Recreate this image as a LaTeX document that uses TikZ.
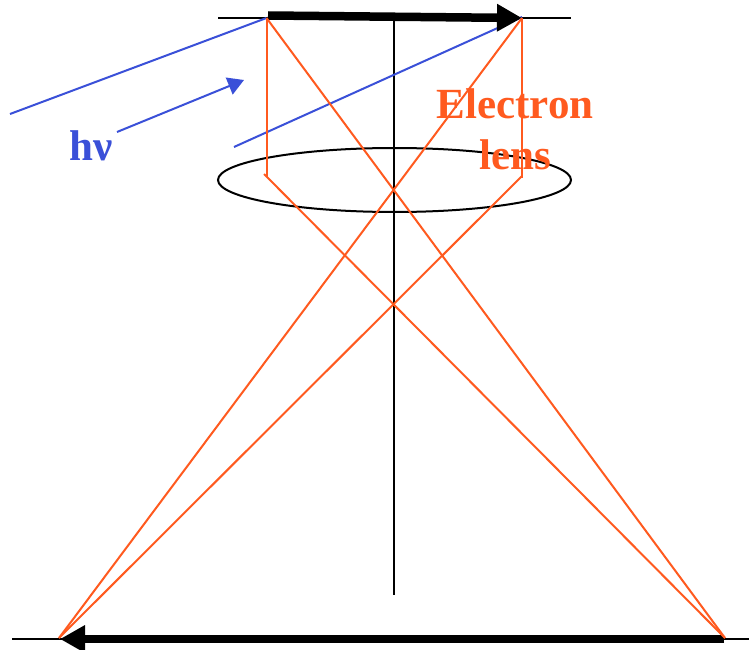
\documentclass[tikz,border=0pt]{standalone}
\usepackage{fontspec}
\setmainfont{Liberation Serif}
\usetikzlibrary{arrows.meta,shapes.geometric}
\definecolor{rayor}{HTML}{FF5A1F}
\definecolor{rayblue}{HTML}{3A50D8}
\tikzset{
  ray/.style={rayor,line width=2pt},
  photon/.style={rayblue,line width=2pt},
  axis/.style={black,line width=2pt},
  bigarrow/.style={black,line width=8.5pt,-{Triangle[length=25pt,width=26pt,inset=0pt]}},
  labelor/.style={rayor,font=\fontsize{43}{51}\selectfont\bfseries,align=center},
  labelbl/.style={rayblue,font=\fontsize{43}{46}\selectfont\bfseries}
}
\begin{document}
\begin{tikzpicture}[x=1pt,y=-1pt]
\useasboundingbox (0,0) rectangle (749,650);
\coordinate (tl) at (218,18);
\coordinate (tr) at (571,18);
\coordinate (bl) at (12,638.5);
\coordinate (br) at (749,638.5);
\coordinate (axt) at (394,18);
\coordinate (axb) at (394,595);
\coordinate (a) at (266.5,18);
\coordinate (b) at (522,18);
\coordinate (bp) at (522,17);
\coordinate (al) at (266.5,177);
\coordinate (alx) at (264,174);
\coordinate (bb) at (522,178);
\coordinate (bbx) at (522,176);
\coordinate (c) at (725,638);
\coordinate (d) at (59,638);
\coordinate (arrTs) at (268,15.5);
\coordinate (arrTe) at (522,18);
\coordinate (arrBs) at (724,639);
\coordinate (arrBe) at (60,639);
\coordinate (p1) at (10,114);
\coordinate (p2) at (234,147);
\coordinate (p3) at (117,132);
\coordinate (p4) at (244,80);
\draw[axis] (tl) -- (tr);
\draw[axis] (bl) -- (br);
\draw[axis] (axt) -- (axb);
\node[draw=black,line width=2pt,ellipse,minimum width=353pt,minimum height=64pt,inner sep=0pt] (lens) at (394.5,180) {};
\draw[photon] (p1) -- (a);
\draw[photon] (p2) -- (bp);
\draw[bigarrow] (arrTs) -- (arrTe);
\draw[bigarrow] (arrBs) -- (arrBe);
\draw[photon,-{Triangle[length=16pt,width=18pt,inset=0pt]}] (p3) -- (p4);
\draw[ray] (a) -- (al);
\draw[ray] (alx) -- (c);
\draw[ray] (b) -- (bb);
\draw[ray] (bbx) -- (d);
\draw[ray] (a) -- (c);
\draw[ray] (b) -- (d);
\node[labelor,anchor=center] (elabel) at (515,129) {Electron\\lens};
\node[labelbl,anchor=center] (hv) at (91,146) {hν};
\end{tikzpicture}
\end{document}
